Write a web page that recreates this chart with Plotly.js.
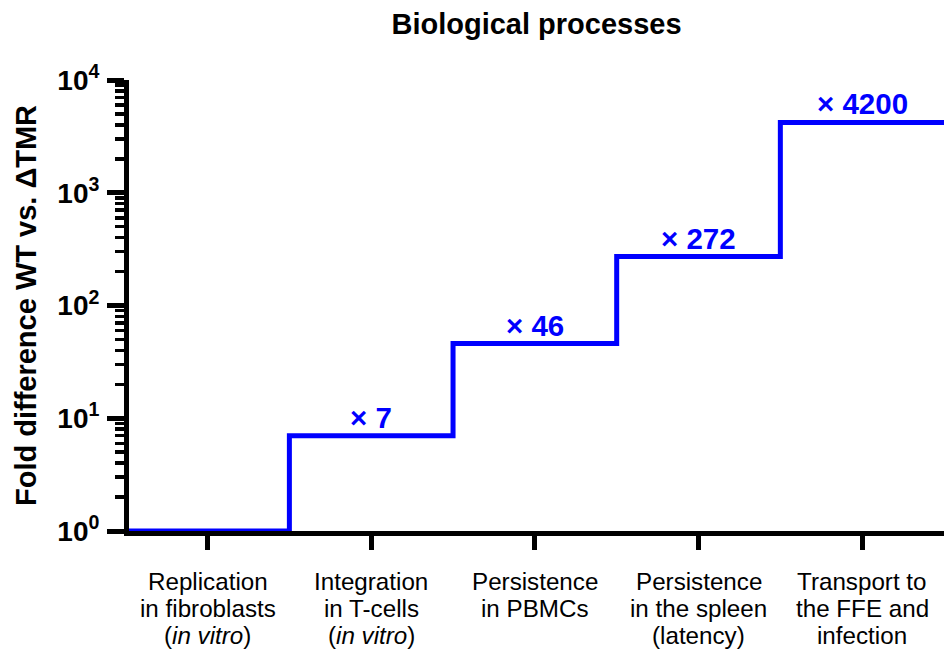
<!DOCTYPE html>
<html>
<head>
<meta charset="utf-8">
<script src="https://cdn.plot.ly/plotly-3.0.1.min.js"></script>
<style>html,body{margin:0;padding:0;background:#fff;}#chart{width:945px;height:654px;}</style>
</head>
<body>
<div id="chart"></div>
<script>
// ---- data ----
const categories = [
  "Replication<br>in fibroblasts<br>(<i>in vitro</i>)",
  "Integration<br>in T-cells<br>(<i>in vitro</i>)",
  "Persistence<br>in PBMCs",
  "Persistence<br>in the spleen<br>(latency)",
  "Transport to<br>the FFE and<br>infection"
];
const foldValues = [1, 7, 46, 272, 4200];
const foldLabels = ["", "× 7", "× 46", "× 272", "× 4200"];
const yTickVals = [1, 10, 100, 1000, 10000];
const yTickText = ["10<sup>0</sup>", "10<sup>1</sup>", "10<sup>2</sup>", "10<sup>3</sup>", "10<sup>4</sup>"];

// ---- build step line from categories (edges at half positions) ----
const idx = categories.map((c, i) => i);
const stepX = idx.map(i => i - 0.5).concat([categories.length - 0.5]);
const stepY = foldValues.concat([foldValues[foldValues.length - 1]]);

const BLUE = "rgb(0,0,255)";
const FONT = "Liberation Sans, Arial, Helvetica, sans-serif";

// minor ticks 2..9 in each decade
const minorVals = [];
for (let d = 0; d < 4; d++) for (let k = 2; k <= 9; k++) minorVals.push(k * Math.pow(10, d));

const annotations = [];
// value labels
foldValues.forEach((v, i) => {
  if (!foldLabels[i]) return;
  annotations.push({
    x: i, xref: "x", y: Math.log10(v), yref: "y",
    text: foldLabels[i], showarrow: false,
    xanchor: "center", yanchor: "bottom", yshift: 0,
    font: {family: FONT, size: 29.5, color: BLUE, weight: "bold"}
  });
});
// category labels, one annotation per line for tight line spacing
categories.forEach((c, i) => {
  c.split("<br>").forEach((line, j) => {
    annotations.push({
      x: i, xref: "x", y: 0, yref: "paper",
      text: line, showarrow: false,
      xanchor: "center", yanchor: "top", yshift: -36 - 27 * j,
      borderpad: 0,
      font: {family: FONT, size: 24.2, color: "black"}
    });
  });
});

const trace = {
  x: stepX, y: stepY, type: "scatter", mode: "lines",
  line: {shape: "hv", color: BLUE, width: 5},
  cliponaxis: false, hoverinfo: "skip", showlegend: false
};

const layout = {
  width: 945, height: 654,
  margin: {l: 129, r: 1, t: 80, b: 122.5},
  paper_bgcolor: "white", plot_bgcolor: "white",
  showlegend: false,
  title: {
    text: "Biological processes",
    font: {family: FONT, size: 29, color: "black", weight: "bold"},
    x: 0.5, xref: "paper", xanchor: "center",
    y: 1 - 23.5 / 654, yref: "container", yanchor: "middle"
  },
  xaxis: {
    range: [-0.48, 4.5], tickmode: "array", tickvals: idx, showticklabels: false,
    showgrid: false, zeroline: false,
    showline: true, linecolor: "black", linewidth: 5,
    ticks: "outside", ticklen: 14, tickwidth: 5, tickcolor: "black",
    fixedrange: true
  },
  yaxis: {
    type: "log", range: [0, 4],
    tickmode: "array", tickvals: yTickVals, ticktext: yTickText,
    tickfont: {family: FONT, size: 28, color: "black", weight: "bold"},
    ticklabelstandoff: 2,
    showgrid: false, zeroline: false,
    showline: true, linecolor: "black", linewidth: 5,
    ticks: "outside", ticklen: 17, tickwidth: 5, tickcolor: "black",
    minor: {tickmode: "array", tickvals: minorVals, ticks: "outside", ticklen: 9, tickwidth: 3.5, tickcolor: "black", showgrid: false},
    title: {
      text: "Fold difference WT vs. ΔTMR",
      font: {family: FONT, size: 29, color: "black", weight: "bold"},
      standoff: 14
    },
    automargin: false,
    fixedrange: true
  },
  annotations: annotations
};

Plotly.newPlot("chart", [trace], layout, {displayModeBar: false, staticPlot: true});
</script>
</body>
</html>
